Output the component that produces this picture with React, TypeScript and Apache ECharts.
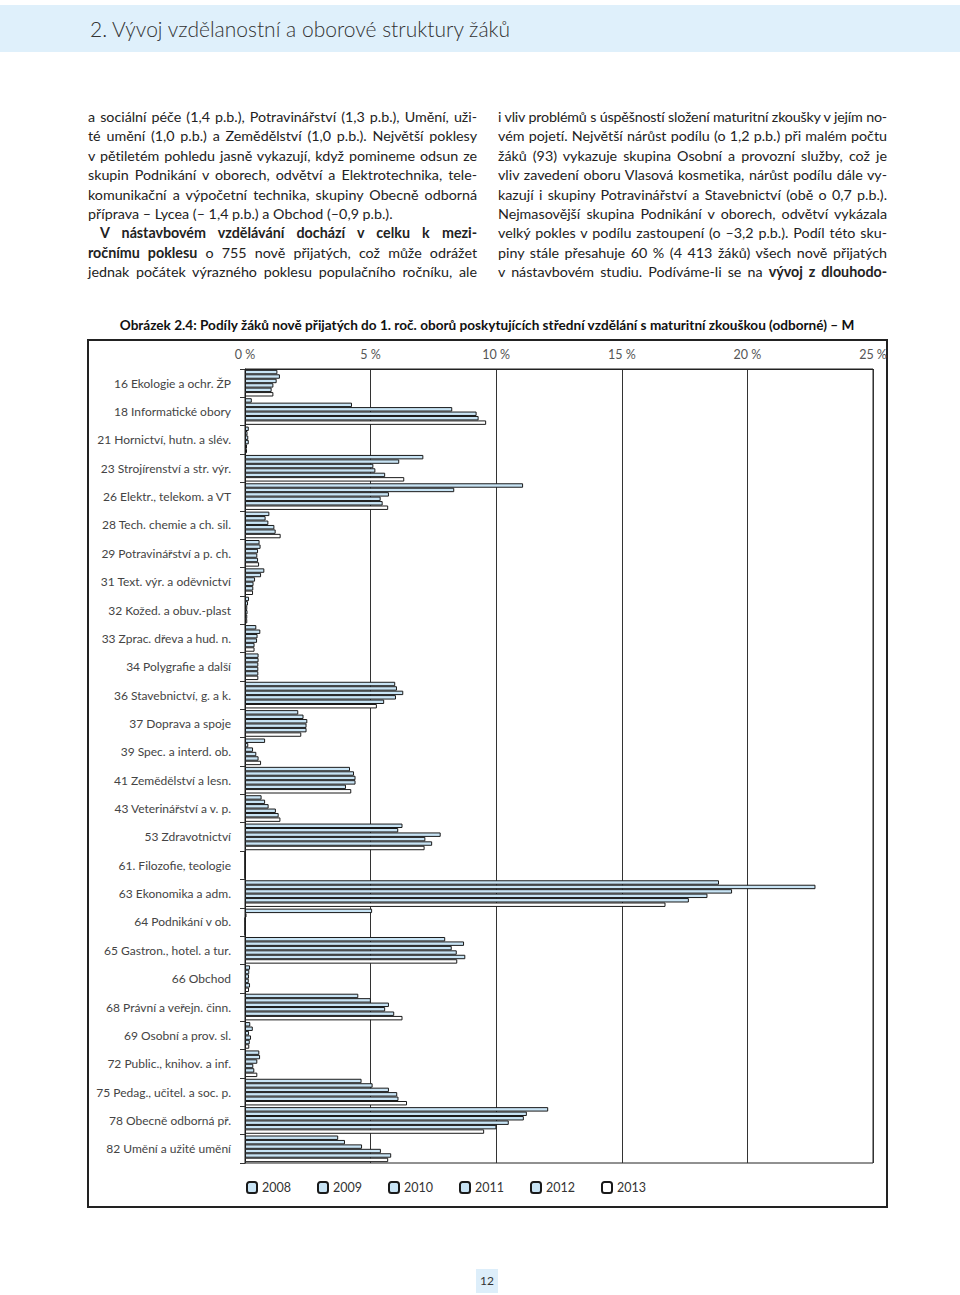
import React, { useEffect, useLayoutEffect, useRef } from "react";
import * as echarts from "echarts";

const categories = [
  "16 Ekologie a ochr. ŽP",
  "18 Informatické obory",
  "21 Hornictví, hutn. a slév.",
  "23 Strojírenství a str. výr.",
  "26 Elektr., telekom. a VT",
  "28 Tech. chemie a ch. sil.",
  "29 Potravinářství a p. ch.",
  "31 Text. výr. a oděvnictví",
  "32 Kožed. a obuv.-plast",
  "33 Zprac. dřeva a hud. n.",
  "34 Polygrafie a další",
  "36 Stavebnictví, g. a k.",
  "37 Doprava a spoje",
  "39 Spec. a interd. ob.",
  "41 Zemědělství a lesn.",
  "43 Veterinářství a v. p.",
  "53 Zdravotnictví",
  "61. Filozofie, teologie",
  "63 Ekonomika a adm.",
  "64 Podnikání v ob.",
  "65 Gastron., hotel. a tur.",
  "66 Obchod",
  "68 Právní a veřejn. činn.",
  "69 Osobní a prov. sl.",
  "72 Public., knihov. a inf.",
  "75 Pedag., učitel. a soc. p.",
  "78 Obecně odborná př.",
  "82 Umění a užité umění",
];

const years = ["2008", "2009", "2010", "2011", "2012", "2013"];

const y2008 = [1.29, 0.27, 0.15, 7.1, 11.07, 0.97, 0.58, 0.77, 0.16, 0.45, 0.54, 5.98, 2.12, 0.8, 4.18, 0.66, 6.27, 0, 18.87, 5.06, 7.97, 0.2, 4.51, 0.21, 0.57, 4.64, 12.07, 3.71];
const y2009 = [1.39, 4.26, 0.1, 6.14, 8.33, 0.82, 0.62, 0.64, 0.12, 0.61, 0.54, 6.05, 2.33, 0.13, 4.34, 0.8, 6.1, 0, 22.71, 0.06, 8.72, 0.17, 5.01, 0.31, 0.6, 5.08, 11.22, 3.98];
const y2010 = [1.26, 8.25, 0.13, 5.11, 5.73, 0.93, 0.52, 0.4, 0.09, 0.5, 0.53, 6.3, 2.48, 0.32, 4.4, 0.94, 7.79, 0, 19.39, 0, 8.23, 0.16, 5.73, 0.16, 0.49, 5.73, 11.1, 4.66];
const y2011 = [1.13, 9.22, 0.15, 5.19, 5.4, 1.17, 0.49, 0.34, 0.1, 0.48, 0.53, 6.01, 2.45, 0.45, 4.4, 1.23, 7.18, 0, 18.41, 0, 8.43, 0.15, 5.58, 0.24, 0.33, 6.06, 10.5, 5.41];
const y2012 = [1.06, 9.3, 0.08, 5.58, 5.48, 1.22, 0.52, 0.33, 0.09, 0.38, 0.53, 5.54, 2.45, 0.54, 4.02, 1.34, 7.45, 0, 17.67, 0, 8.77, 0.2, 5.94, 0.19, 0.37, 6.11, 10.01, 5.82];
const y2013 = [1.13, 9.6, 0.08, 6.34, 5.7, 1.42, 0.56, 0.32, 0.09, 0.38, 0.53, 5.25, 2.24, 0.64, 4.23, 1.41, 7.15, 0, 16.74, 0, 8.45, 0.16, 6.27, 0.17, 0.49, 6.45, 9.52, 5.7];

const seriesValues = [y2008, y2009, y2010, y2011, y2012, y2013];
const seriesFills = ["#c8e4f5", "#c8e4f5", "#c8e4f5", "#c8e4f5", "#c8e4f5", "#ffffff"];

const chartTitle =
  "Obrázek 2.4: Podíly žáků nově přijatých do 1. roč. oborů poskytujících střední vzdělání s maturitní zkouškou (odborné) – M";

type Seg = { t: string; b?: boolean };
type Line = { segs: Seg[]; justify: boolean; indent?: boolean };

const leftLines: Line[] = [
  { segs: [{ t: "a sociální péče (1,4 p.b.), Potravinářství (1,3 p.b.), Umění, uži-" }], justify: true },
  { segs: [{ t: "té umění (1,0 p.b.) a Zemědělství (1,0 p.b.). Největší poklesy" }], justify: true },
  { segs: [{ t: "v pětiletém pohledu jasně vykazují, když pomineme odsun ze" }], justify: true },
  { segs: [{ t: "skupin Podnikání v oborech, odvětví a Elektrotechnika, tele-" }], justify: true },
  { segs: [{ t: "komunikační a výpočetní technika, skupiny Obecně odborná" }], justify: true },
  { segs: [{ t: "příprava – Lycea (– 1,4 p.b.) a Obchod (–0,9 p.b.)." }], justify: false },
  { segs: [{ t: "V nástavbovém vzdělávání dochází v celku k mezi-", b: true }], justify: true, indent: true },
  { segs: [{ t: "ročnímu poklesu", b: true }, { t: " o 755 nově přijatých, což může odrážet" }], justify: true },
  { segs: [{ t: "jednak počátek výrazného poklesu populačního ročníku, ale" }], justify: true },
];

const rightLines: Line[] = [
  { segs: [{ t: "i vliv problémů s úspěšností složení maturitní zkoušky v jejím no-" }], justify: true },
  { segs: [{ t: "vém pojetí. Největší nárůst podílu (o 1,2 p.b.) při malém počtu" }], justify: true },
  { segs: [{ t: "žáků (93) vykazuje skupina Osobní a provozní služby, což je" }], justify: true },
  { segs: [{ t: "vliv zavedení oboru Vlasová kosmetika, nárůst podílu dále vy-" }], justify: true },
  { segs: [{ t: "kazují i skupiny Potravinářství a Stavebnictví (obě o 0,7 p.b.)." }], justify: true },
  { segs: [{ t: "Nejmasovější skupina Podnikání v oborech, odvětví vykázala" }], justify: true },
  { segs: [{ t: "velký pokles v podílu zastoupení (o –3,2 p.b.). Podíl této sku-" }], justify: true },
  { segs: [{ t: "piny stále přesahuje 60 % (4 413 žáků) všech nově přijatých" }], justify: true },
  { segs: [{ t: "v nástavbovém studiu. Podíváme-li se na " }, { t: "vývoj z dlouhodo-", b: true }], justify: true },
];

const FONT = "Lato, 'Noto Sans', sans-serif";

function TextColumn({ lines, left }: { lines: Line[]; left: number }) {
  const colRef = useRef<HTMLDivElement>(null);
  useLayoutEffect(() => {
    const col = colRef.current;
    if (!col) return;
    Array.from(col.children).forEach((el) => {
      const d = el as HTMLDivElement;
      const inner = d.firstElementChild as HTMLSpanElement | null;
      if (!inner) return;
      const avail = d.clientWidth - (parseFloat(getComputedStyle(d).paddingLeft) || 0) - 1;
      const natural = inner.getBoundingClientRect().width;
      if (natural > avail) {
        const chars = (inner.textContent || "").length || 1;
        d.style.letterSpacing = `${-(natural - avail) / chars}px`;
      }
    });
  }, []);
  return (
    <div ref={colRef} style={{ position: "absolute", left, top: 107, width: 389 }}>
      {lines.map((ln, i) => (
        <div
          key={i}
          style={{
            height: 19.4,
            lineHeight: "19.4px",
            fontSize: 14.3,
            whiteSpace: "nowrap",
            textAlign: ln.justify ? "justify" : "left",
            textAlignLast: ln.justify ? "justify" : "left",
            paddingLeft: ln.indent ? 12 : 0,
            color: "#222",
          } as React.CSSProperties}
        >
          <span style={{ display: "inline" }}>
            {ln.segs.map((s, j) => (
              <span key={j} style={{ fontWeight: s.b ? 700 : 400 }}>
                {s.t}
              </span>
            ))}
          </span>
        </div>
      ))}
    </div>
  );
}

export default function App() {
  const ref = useRef<HTMLDivElement>(null);

  useEffect(() => {
    document.body.style.margin = "0";
    if (!ref.current) return;
    const chart = echarts.init(ref.current, undefined, { renderer: "svg" });
    chart.setOption({
      animation: false,
      textStyle: { fontFamily: FONT },
      grid: {
        left: 245,
        right: 87,
        top: 69,
        bottom: 67,
        show: true,
        borderColor: "#222",
        borderWidth: 1,
        backgroundColor: "transparent",
      },
      graphic: [
        {
          type: "rect",
          shape: { x: 88, y: 40, width: 799, height: 867 },
          style: { fill: "none", stroke: "#222", lineWidth: 2 },
          silent: true,
        },
        {
          type: "text",
          x: 487,
          y: 25,
          style: {
            text: chartTitle,
            textAlign: "center",
            textVerticalAlign: "middle",
            font: "bold 13.6px Lato, 'Noto Sans', sans-serif",
            fill: "#111",
          },
        },
      ],
      legend: {
        data: years,
        left: 246,
        top: 881,
        padding: 0,
        itemWidth: 10,
        itemHeight: 11,
        itemGap: 26,
        textStyle: { fontSize: 12.5, color: "#333", fontFamily: FONT },
      },
      xAxis: {
        type: "value",
        position: "top",
        min: 0,
        max: 25,
        interval: 5,
        axisLine: { show: true, lineStyle: { color: "#222", width: 1 } },
        axisTick: { show: false },
        axisLabel: {
          formatter: "{value} %",
          color: "#555",
          fontSize: 12.5,
          margin: 8,
          fontFamily: FONT,
        },
        splitLine: { show: true, lineStyle: { color: "#333", width: 1 } },
      },
      yAxis: {
        type: "category",
        data: categories,
        inverse: true,
        axisLine: { show: true, lineStyle: { color: "#222", width: 1 } },
        axisTick: { show: true, length: 5, lineStyle: { color: "#333" } },
        axisLabel: { color: "#444", fontSize: 12, margin: 14, fontFamily: FONT },
        splitLine: { show: false },
      },
      series: years.map((yr, i) => ({
        name: yr,
        type: "bar",
        data: seriesValues[i],
        barGap: "0%",
        barCategoryGap: "6%",
        itemStyle: { color: seriesFills[i], borderColor: "#1a1a1a", borderWidth: 1 },
      })),
    });
    return () => chart.dispose();
  }, []);

  return (
    <div style={{ position: "relative", width: 960, height: 1295, background: "#fff", fontFamily: FONT, overflow: "hidden" }}>
      <div
        style={{
          position: "absolute",
          left: 0,
          top: 5,
          width: 960,
          height: 47,
          background: "#dff0fb",
        }}
      />
      <div
        style={{
          position: "absolute",
          left: 90,
          top: 15,
          fontSize: 21,
          lineHeight: "28px",
          color: "#333",
          fontWeight: 300,
        }}
      >
        2. Vývoj vzdělanostní a oborové struktury žáků
      </div>
      <TextColumn lines={leftLines} left={88} />
      <TextColumn lines={rightLines} left={498} />
      <div ref={ref} style={{ position: "absolute", left: 0, top: 300, width: 960, height: 930 }} />
      <div
        style={{
          position: "absolute",
          left: 476,
          top: 1269,
          width: 22,
          height: 24,
          background: "#ddeefa",
          fontSize: 12,
          lineHeight: "24px",
          textAlign: "center",
          color: "#333",
        }}
      >
        12
      </div>
    </div>
  );
}
